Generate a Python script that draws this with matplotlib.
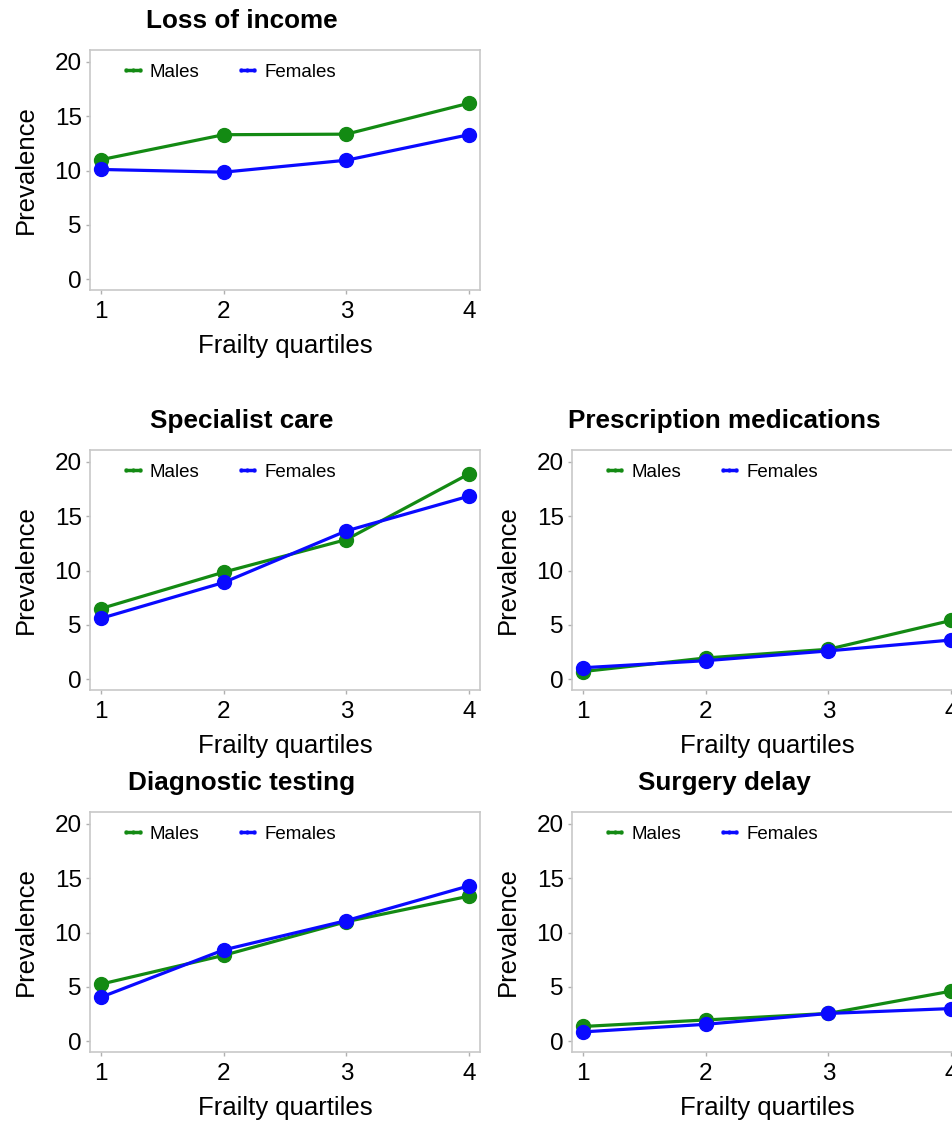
import matplotlib
matplotlib.use("Agg")
import matplotlib.pyplot as plt
from matplotlib.lines import Line2D

plt.rcParams['font.family'] = ['Liberation Sans', 'DejaVu Sans']

quartiles = [1, 2, 3, 4]
titles = ["Loss of income", "Specialist care", "Prescription medications",
          "Diagnostic testing", "Surgery delay"]
males_income = [11.0, 13.3, 13.35, 16.2]
females_income = [10.1, 9.85, 10.95, 13.3]
males_specialist = [6.5, 9.85, 12.85, 18.9]
females_specialist = [5.6, 8.9, 13.65, 16.85]
males_prescription = [0.7, 1.95, 2.75, 5.4]
females_prescription = [1.05, 1.7, 2.6, 3.6]
males_diagnostic = [5.25, 7.9, 11.0, 13.35]
females_diagnostic = [4.05, 8.4, 11.1, 14.3]
males_surgery = [1.35, 1.95, 2.55, 4.6]
females_surgery = [0.85, 1.55, 2.55, 3.0]
yticks = [0, 5, 10, 15, 20]

GREEN = '#138a13'
BLUE = '#0a0aff'
W, H = 953, 1127

fig = plt.figure(figsize=(W / 100, H / 100), dpi=100)

# panel pixel boxes: (left, top)
panels = [
    (titles[0], males_income, females_income, 90, 50),
    (titles[1], males_specialist, females_specialist, 90, 450),
    (titles[2], males_prescription, females_prescription, 572, 450),
    (titles[3], males_diagnostic, females_diagnostic, 90, 812),
    (titles[4], males_surgery, females_surgery, 572, 812),
]
aw, ah = 390, 240

for title, m, f, left, top in panels:
    ax = fig.add_axes([left / W, 1 - (top + ah) / H, aw / W, ah / H])
    ax.plot(quartiles, m, color=GREEN, lw=2.3, marker='o', ms=10, zorder=3)
    ax.plot(quartiles, f, color=BLUE, lw=2.3, marker='o', ms=10, zorder=4)
    ax.set_xlim(0.91, 4.09)
    ax.set_ylim(-1.0, 21.1)
    ax.set_xticks(quartiles)
    ax.set_yticks(yticks)
    ax.tick_params(axis='both', labelsize=17.5, color='#b0b0b0', length=3, width=1)
    ax.tick_params(axis='x', pad=5)
    ax.tick_params(axis='y', pad=3)
    for s in ax.spines.values():
        s.set_color('#c8c8c8')
        s.set_linewidth(1.2)
    ax.set_ylabel("Prevalence", fontsize=18.5, labelpad=12)
    ax.set_xlabel("Frailty quartiles", fontsize=18.5, labelpad=8)
    handles = [Line2D([0], [0], color=GREEN, lw=2.5, marker='o', ms=2),
               Line2D([0], [0], color=BLUE, lw=2.5, marker='o', ms=2)]
    ax.legend(handles, ["Males", "Females"], loc='upper left', ncol=2,
              frameon=False, fontsize=13.5, handlelength=1.3,
              handletextpad=0.25, columnspacing=1.9, numpoints=3,
              bbox_to_anchor=(0.05, 0.99), borderaxespad=0.2)
    fig.text((left - 43 + aw / 2) / W, 1 - (top - 29) / H, title,
             ha='center', va='center', fontsize=18.8, fontweight='bold')

fig.savefig("out.png", dpi=100)
